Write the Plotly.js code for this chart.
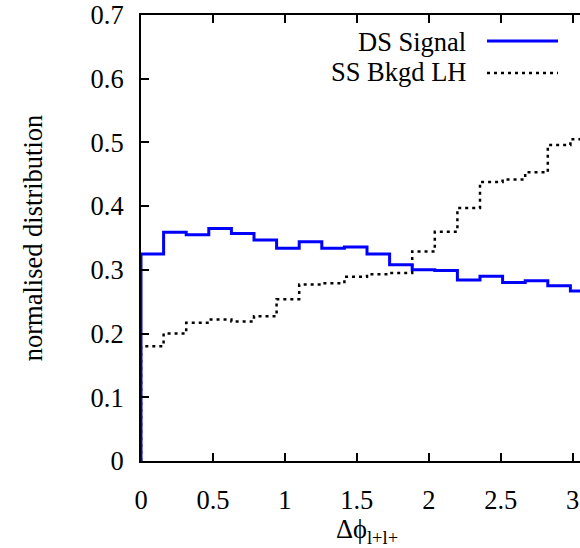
<!DOCTYPE html>
<html>
<head>
<meta charset="utf-8">
<script src="https://cdn.plot.ly/plotly-3.0.1.min.js"></script>
<style>
html, body { margin: 0; padding: 0; overflow: hidden; background: #fff; }
#chart { width: 620px; height: 548px; }
</style>
</head>
<body>
<div id="chart"></div>
<script>
// 20 equal bins from 0 to pi
const nBins = 20;
const xMax = Math.PI;

const dsSignal = [0.325, 0.359, 0.355, 0.365, 0.357, 0.347, 0.334, 0.344, 0.334, 0.336,
                  0.325, 0.308, 0.300, 0.299, 0.284, 0.290, 0.280, 0.283, 0.275, 0.267];
const ssBkgdLH = [0.180, 0.200, 0.217, 0.222, 0.219, 0.227, 0.254, 0.277, 0.279, 0.289,
                  0.293, 0.295, 0.329, 0.360, 0.397, 0.438, 0.442, 0.453, 0.496, 0.505];

const seriesNames = ["DS Signal", "SS Bkgd LH"];
const xTitle = "Δϕ<sub>l+l+</sub>";
const yTitle = "normalised distribution";

function stepXY(vals) {
  const w = xMax / vals.length;
  const xs = [0], ys = [0];
  vals.forEach((v, i) => { xs.push(i * w); ys.push(v); });
  xs.push(xMax); ys.push(vals[vals.length - 1]);
  return {x: xs, y: ys};
}

const s1 = stepXY(dsSignal);
const s2 = stepXY(ssBkgdLH);

const font = {family: "'Liberation Serif', 'DejaVu Serif', serif", size: 26.5, color: "#000"};

const traces = [
  {x: s2.x, y: s2.y, type: "scatter", mode: "lines", name: seriesNames[1],
   line: {shape: "hv", color: "#000", width: 2.5, dash: "3px,4px"}, showlegend: false},
  {x: s1.x, y: s1.y, type: "scatter", mode: "lines", name: seriesNames[0],
   line: {shape: "hv", color: "#0000ff", width: 3}, showlegend: false}
];

const layout = {
  width: 620, height: 548,
  margin: {l: 141, r: 27, t: 15, b: 87},
  paper_bgcolor: "#fff", plot_bgcolor: "#fff",
  font: font,
  showlegend: false,
  xaxis: {
    range: [0, xMax], dtick: 0.5, tick0: 0,
    showgrid: false, zeroline: false,
    showline: true, linecolor: "#000", linewidth: 2, mirror: "ticks",
    ticks: "inside", ticklen: 8, tickwidth: 2, tickcolor: "#000",
    tickfont: font, ticklabelstandoff: 14,
    title: {text: xTitle, font: font, standoff: 9}
  },
  yaxis: {
    range: [0, 0.7], dtick: 0.1, tick0: 0,
    showgrid: false, zeroline: false,
    showline: true, linecolor: "#000", linewidth: 2, mirror: "ticks",
    ticks: "inside", ticklen: 8, tickwidth: 2, tickcolor: "#000",
    tickfont: font, ticklabelstandoff: 10,
    title: {text: yTitle, font: font, standoff: 40}
  },
  annotations: [
    {text: seriesNames[0], xref: "paper", yref: "paper", x: 0.7235, y: 0.9395,
     xanchor: "right", yanchor: "middle", showarrow: false, font: font},
    {text: seriesNames[1], xref: "paper", yref: "paper", x: 0.7235, y: 0.872,
     xanchor: "right", yanchor: "middle", showarrow: false, font: font}
  ],
  shapes: [
    {type: "line", xref: "paper", yref: "paper", x0: 0.7655, x1: 0.9226, y0: 0.9415, y1: 0.9415,
     line: {color: "#0000ff", width: 3}},
    {type: "line", xref: "paper", yref: "paper", x0: 0.7655, x1: 0.9226, y0: 0.870, y1: 0.870,
     line: {color: "#000", width: 2.5, dash: "3px,4px"}}
  ]
};

Plotly.newPlot("chart", traces, layout, {staticPlot: true, displayModeBar: false});
</script>
</body>
</html>
